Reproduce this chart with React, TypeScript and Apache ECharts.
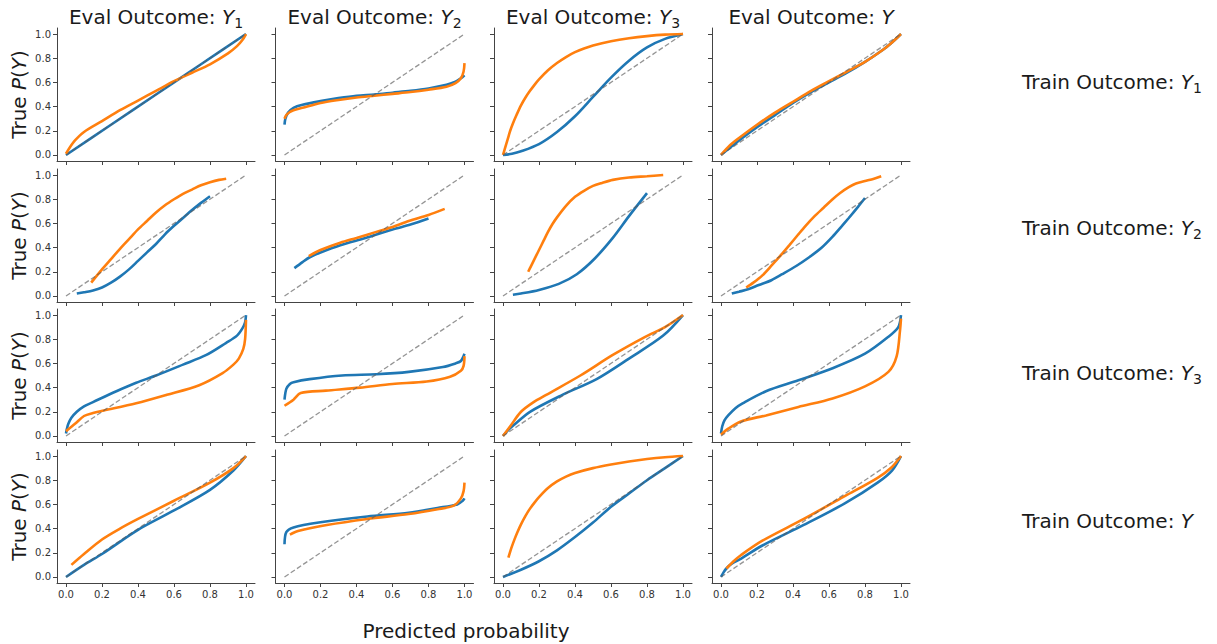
import React, { useEffect, useRef } from "react";
import * as echarts from "echarts";

// ---------- data ----------
const evalSubscripts = ["1", "2", "3", ""];
const trainSubscripts = ["1", "2", "3", ""];
const tickValues = [0, 0.2, 0.4, 0.6, 0.8, 1.0];
const diagonal = [[0, 0], [1, 1]];

// Train Y1
const blue_T1_E1 = [[0, 0], [0.25, 0.25], [0.5, 0.5], [0.75, 0.75], [1, 1]];
const orange_T1_E1 = [[0, 0.01], [0.02, 0.06], [0.05, 0.12], [0.1, 0.19], [0.2, 0.28], [0.3, 0.37], [0.4, 0.45], [0.5, 0.53], [0.6, 0.61], [0.7, 0.68], [0.8, 0.75], [0.9, 0.84], [0.95, 0.9], [0.98, 0.95], [1, 1]];
const blue_T1_E2 = [[0, 0.25], [0.005, 0.3], [0.02, 0.35], [0.05, 0.39], [0.1, 0.415], [0.2, 0.445], [0.3, 0.47], [0.4, 0.49], [0.5, 0.5], [0.6, 0.515], [0.7, 0.53], [0.8, 0.55], [0.9, 0.58], [0.95, 0.605], [0.98, 0.635], [1, 0.66]];
const orange_T1_E2 = [[0, 0.3], [0.01, 0.33], [0.03, 0.355], [0.05, 0.37], [0.1, 0.39], [0.2, 0.43], [0.3, 0.455], [0.4, 0.475], [0.5, 0.49], [0.6, 0.505], [0.7, 0.52], [0.8, 0.54], [0.9, 0.565], [0.95, 0.595], [0.98, 0.635], [0.995, 0.69], [1, 0.76]];
const blue_T1_E3 = [[0, 0], [0.05, 0.01], [0.1, 0.03], [0.2, 0.09], [0.3, 0.19], [0.4, 0.32], [0.5, 0.48], [0.6, 0.64], [0.7, 0.78], [0.8, 0.89], [0.9, 0.96], [1, 1]];
const orange_T1_E3 = [[0, 0], [0.01, 0.05], [0.02, 0.1], [0.03, 0.15], [0.04, 0.2], [0.055, 0.26], [0.075, 0.33], [0.1, 0.41], [0.125, 0.475], [0.15, 0.53], [0.175, 0.58], [0.2, 0.625], [0.25, 0.7], [0.3, 0.76], [0.35, 0.81], [0.4, 0.85], [0.45, 0.88], [0.5, 0.905], [0.6, 0.94], [0.7, 0.965], [0.8, 0.983], [0.9, 0.995], [1, 1]];
const blue_T1_E4 = [[0, 0], [0.05, 0.06], [0.1, 0.12], [0.2, 0.23], [0.3, 0.33], [0.4, 0.43], [0.5, 0.52], [0.6, 0.6], [0.7, 0.68], [0.8, 0.77], [0.9, 0.87], [0.95, 0.93], [1, 1]];
const orange_T1_E4 = [[0, 0], [0.05, 0.08], [0.1, 0.14], [0.2, 0.25], [0.3, 0.35], [0.4, 0.44], [0.5, 0.53], [0.6, 0.61], [0.7, 0.69], [0.8, 0.77], [0.9, 0.87], [0.95, 0.93], [1, 1]];

// Train Y2
const blue_T2_E1 = [[0.06, 0.02], [0.1, 0.03], [0.15, 0.045], [0.2, 0.07], [0.25, 0.11], [0.3, 0.16], [0.35, 0.22], [0.4, 0.29], [0.45, 0.36], [0.5, 0.43], [0.55, 0.51], [0.6, 0.58], [0.65, 0.645], [0.7, 0.71], [0.75, 0.77], [0.8, 0.825]];
const orange_T2_E1 = [[0.14, 0.11], [0.2, 0.22], [0.25, 0.305], [0.3, 0.39], [0.35, 0.47], [0.4, 0.55], [0.45, 0.62], [0.5, 0.69], [0.55, 0.75], [0.6, 0.8], [0.65, 0.845], [0.7, 0.88], [0.75, 0.915], [0.8, 0.94], [0.85, 0.96], [0.89, 0.97]];
const blue_T2_E2 = [[0.055, 0.23], [0.1, 0.28], [0.14, 0.32], [0.2, 0.36], [0.31, 0.42], [0.45, 0.48], [0.6, 0.55], [0.7, 0.59], [0.8, 0.64]];
const orange_T2_E2 = [[0.135, 0.33], [0.2, 0.38], [0.31, 0.44], [0.4, 0.48], [0.51, 0.53], [0.6, 0.57], [0.69, 0.62], [0.8, 0.67], [0.89, 0.72]];
const blue_T2_E3 = [[0.055, 0.01], [0.1, 0.02], [0.2, 0.05], [0.31, 0.1], [0.41, 0.18], [0.51, 0.31], [0.61, 0.48], [0.7, 0.66], [0.8, 0.85]];
const orange_T2_E3 = [[0.14, 0.2], [0.155, 0.245], [0.17, 0.29], [0.185, 0.335], [0.2, 0.38], [0.225, 0.455], [0.25, 0.53], [0.275, 0.595], [0.3, 0.65], [0.35, 0.745], [0.4, 0.82], [0.45, 0.87], [0.5, 0.91], [0.55, 0.935], [0.61, 0.96], [0.7, 0.98], [0.8, 0.99], [0.89, 1.0]];
const blue_T2_E4 = [[0.06, 0.02], [0.1, 0.035], [0.15, 0.055], [0.21, 0.09], [0.28, 0.13], [0.34, 0.18], [0.42, 0.25], [0.49, 0.32], [0.56, 0.4], [0.62, 0.49], [0.67, 0.575], [0.71, 0.645], [0.76, 0.735], [0.8, 0.81]];
const orange_T2_E4 = [[0.14, 0.07], [0.18, 0.11], [0.23, 0.17], [0.28, 0.25], [0.34, 0.35], [0.38, 0.42], [0.43, 0.51], [0.47, 0.58], [0.52, 0.66], [0.57, 0.73], [0.62, 0.8], [0.66, 0.85], [0.71, 0.9], [0.75, 0.93], [0.8, 0.95], [0.85, 0.97], [0.89, 0.99]];

// Train Y3
const blue_T3_E1 = [[0, 0.02], [0.005, 0.06], [0.013, 0.1], [0.03, 0.15], [0.06, 0.2], [0.1, 0.245], [0.15, 0.28], [0.28, 0.37], [0.39, 0.44], [0.5, 0.5], [0.65, 0.59], [0.78, 0.67], [0.89, 0.77], [0.95, 0.83], [0.98, 0.89], [0.995, 0.94], [1, 1]];
const orange_T3_E1 = [[0, 0.04], [0.05, 0.1], [0.1, 0.165], [0.15, 0.19], [0.21, 0.21], [0.39, 0.27], [0.56, 0.34], [0.74, 0.42], [0.87, 0.52], [0.93, 0.59], [0.96, 0.64], [0.985, 0.72], [0.995, 0.8], [1, 0.96]];
const blue_T3_E2 = [[0, 0.3], [0.01, 0.39], [0.03, 0.43], [0.05, 0.445], [0.14, 0.47], [0.32, 0.5], [0.51, 0.51], [0.69, 0.53], [0.88, 0.57], [0.95, 0.6], [0.98, 0.62], [1, 0.68]];
const orange_T3_E2 = [[0, 0.25], [0.05, 0.3], [0.09, 0.355], [0.23, 0.375], [0.42, 0.4], [0.6, 0.43], [0.79, 0.45], [0.92, 0.49], [0.98, 0.54], [0.995, 0.58], [1, 0.66]];
const blue_T3_E3 = [[0, 0], [0.03, 0.05], [0.06, 0.09], [0.15, 0.2], [0.33, 0.34], [0.52, 0.47], [0.7, 0.64], [0.89, 0.83], [1, 1]];
const orange_T3_E3 = [[0, 0], [0.04, 0.08], [0.1, 0.2], [0.17, 0.28], [0.24, 0.34], [0.43, 0.5], [0.61, 0.67], [0.79, 0.82], [0.9, 0.9], [1, 1]];
const blue_T3_E4 = [[0, 0.02], [0.007, 0.08], [0.02, 0.13], [0.04, 0.17], [0.08, 0.23], [0.12, 0.27], [0.25, 0.37], [0.43, 0.46], [0.62, 0.56], [0.8, 0.68], [0.93, 0.82], [0.985, 0.9], [1, 1]];
const orange_T3_E4 = [[0, 0.01], [0.04, 0.06], [0.11, 0.12], [0.25, 0.17], [0.43, 0.24], [0.62, 0.31], [0.8, 0.41], [0.93, 0.53], [0.976, 0.66], [0.995, 0.88], [1, 0.97]];

// Train Y
const blue_T4_E1 = [[0, 0], [0.1, 0.1], [0.2, 0.19], [0.4, 0.39], [0.6, 0.55], [0.8, 0.72], [0.93, 0.88], [1, 1]];
const orange_T4_E1 = [[0.03, 0.1], [0.1, 0.19], [0.2, 0.31], [0.3, 0.4], [0.4, 0.48], [0.6, 0.63], [0.8, 0.78], [0.93, 0.9], [1, 1]];
const blue_T4_E2 = [[0, 0.27], [0.01, 0.37], [0.05, 0.41], [0.19, 0.45], [0.46, 0.5], [0.69, 0.53], [0.85, 0.57], [0.96, 0.6], [0.99, 0.63], [1, 0.65]];
const orange_T4_E2 = [[0.03, 0.35], [0.075, 0.38], [0.235, 0.43], [0.46, 0.48], [0.69, 0.52], [0.85, 0.56], [0.94, 0.59], [0.98, 0.65], [0.995, 0.71], [1, 0.78]];
const blue_T4_E3 = [[0, 0], [0.1, 0.06], [0.2, 0.13], [0.3, 0.22], [0.4, 0.33], [0.5, 0.45], [0.6, 0.58], [0.7, 0.69], [0.8, 0.8], [0.9, 0.9], [1, 1]];
const orange_T4_E3 = [[0.03, 0.16], [0.04, 0.21], [0.05, 0.255], [0.065, 0.315], [0.08, 0.37], [0.1, 0.435], [0.125, 0.505], [0.15, 0.565], [0.175, 0.615], [0.2, 0.66], [0.25, 0.735], [0.3, 0.79], [0.35, 0.83], [0.4, 0.86], [0.5, 0.9], [0.6, 0.93], [0.7, 0.955], [0.8, 0.975], [0.9, 0.99], [1, 1]];
const blue_T4_E4 = [[0, 0], [0.015, 0.04], [0.03, 0.07], [0.06, 0.11], [0.11, 0.15], [0.23, 0.26], [0.46, 0.43], [0.69, 0.61], [0.87, 0.78], [0.95, 0.88], [1, 1]];
const orange_T4_E4 = [[0.03, 0.07], [0.07, 0.13], [0.11, 0.18], [0.23, 0.3], [0.46, 0.48], [0.69, 0.67], [0.87, 0.82], [0.95, 0.91], [1, 1]];

const blueCurves = [
  [blue_T1_E1, blue_T1_E2, blue_T1_E3, blue_T1_E4],
  [blue_T2_E1, blue_T2_E2, blue_T2_E3, blue_T2_E4],
  [blue_T3_E1, blue_T3_E2, blue_T3_E3, blue_T3_E4],
  [blue_T4_E1, blue_T4_E2, blue_T4_E3, blue_T4_E4],
];
const orangeCurves = [
  [orange_T1_E1, orange_T1_E2, orange_T1_E3, orange_T1_E4],
  [orange_T2_E1, orange_T2_E2, orange_T2_E3, orange_T2_E4],
  [orange_T3_E1, orange_T3_E2, orange_T3_E3, orange_T3_E4],
  [orange_T4_E1, orange_T4_E2, orange_T4_E3, orange_T4_E4],
];

// ---------- layout ----------
const GRID_LEFT = [57, 275.5, 494, 712];
const GRID_TOP = [28, 169, 309, 450];
const GRID_W = 198;
const GRID_H = 133;
const FONT = "DejaVu Sans";
const BLUE = "#1f77b4";
const ORANGE = "#ff7f0e";
const SPINE = "#444444";

const richBig = {
  n: { fontSize: 20, fontFamily: FONT, fill: "#1a1a1a", lineHeight: 26 },
  i: { fontSize: 20, fontFamily: FONT, fontStyle: "italic", fill: "#1a1a1a", lineHeight: 26 },
  s: { fontSize: 14, fontFamily: FONT, fill: "#1a1a1a", lineHeight: 15, verticalAlign: "bottom" },
};

function outcomeText(prefix: string, sub: string) {
  return `{n|${prefix}: }{i|Y}` + (sub ? `{s|${sub}}` : "");
}

function buildOption() {
  const grid: any[] = [];
  const xAxis: any[] = [];
  const yAxis: any[] = [];
  const series: any[] = [];
  for (let r = 0; r < 4; r++) {
    for (let c = 0; c < 4; c++) {
      const idx = r * 4 + c;
      grid.push({ left: GRID_LEFT[c], top: GRID_TOP[r], width: GRID_W, height: GRID_H, containLabel: false });
      const common = {
        type: "value",
        gridIndex: idx,
        min: -0.05,
        max: 1.05,
        splitLine: { show: false },
        axisLine: { show: true, onZero: false, lineStyle: { color: SPINE, width: 1 } },
        axisTick: { show: true, customValues: tickValues, length: 4, lineStyle: { color: SPINE, width: 1 } },
      };
      const labelStyle = {
        customValues: tickValues,
        formatter: (v: number) => v.toFixed(1),
        fontSize: 10,
        fontFamily: FONT,
        color: "#333333",
        margin: 6,
      };
      xAxis.push({ ...common, axisLabel: { ...labelStyle, show: r === 3 } });
      yAxis.push({ ...common, axisLabel: { ...labelStyle, show: c === 0 } });
      series.push({
        type: "line",
        xAxisIndex: idx,
        yAxisIndex: idx,
        data: blueCurves[r][c],
        showSymbol: false,
        symbol: "none",
        smooth: 0.3,
        silent: true,
        lineStyle: { color: BLUE, width: 2.6 },
      });
      series.push({
        type: "line",
        xAxisIndex: idx,
        yAxisIndex: idx,
        data: orangeCurves[r][c],
        showSymbol: false,
        symbol: "none",
        smooth: 0.3,
        silent: true,
        lineStyle: { color: ORANGE, width: 2.6 },
      });
      series.push({
        type: "line",
        xAxisIndex: idx,
        yAxisIndex: idx,
        data: diagonal,
        showSymbol: false,
        symbol: "none",
        silent: true,
        lineStyle: { color: "rgba(90,90,90,0.65)", width: 1.3, type: [5, 2.5] },
      });
    }
  }

  const graphic: any[] = [];
  for (let c = 0; c < 4; c++) {
    graphic.push({
      type: "text",
      x: GRID_LEFT[c] + GRID_W / 2,
      y: 17,
      style: { text: outcomeText("Eval Outcome", evalSubscripts[c]), rich: richBig, align: "center", verticalAlign: "middle" },
    });
  }
  const rowLabelY = [82, 228, 373, 521];
  for (let r = 0; r < 4; r++) {
    graphic.push({
      type: "text",
      x: 1022,
      y: rowLabelY[r],
      style: { text: outcomeText("Train Outcome", trainSubscripts[r]), rich: richBig, align: "left", verticalAlign: "middle" },
    });
    graphic.push({
      type: "text",
      x: 19,
      y: GRID_TOP[r] + GRID_H / 2,
      rotation: Math.PI / 2,
      style: { text: "{n|True }{i|P}{n|(}{i|Y}{n|)}", rich: richBig, align: "center", verticalAlign: "middle" },
    });
  }
  graphic.push({
    type: "text",
    x: 466,
    y: 631,
    style: { text: "Predicted probability", fontSize: 20, fontFamily: FONT, fill: "#1a1a1a", align: "center", verticalAlign: "middle" },
  });

  return { animation: false, backgroundColor: "#ffffff", grid, xAxis, yAxis, series, graphic };
}

export default function App() {
  const ref = useRef<HTMLDivElement>(null);
  useEffect(() => {
    if (!ref.current) return;
    const chart = echarts.init(ref.current, undefined, { renderer: "svg" });
    chart.setOption(buildOption() as any);
    return () => chart.dispose();
  }, []);
  return (
    <div
      ref={ref}
      style={{ position: "fixed", left: 0, top: 0, width: 1217, height: 644, background: "#fff" }}
    />
  );
}
